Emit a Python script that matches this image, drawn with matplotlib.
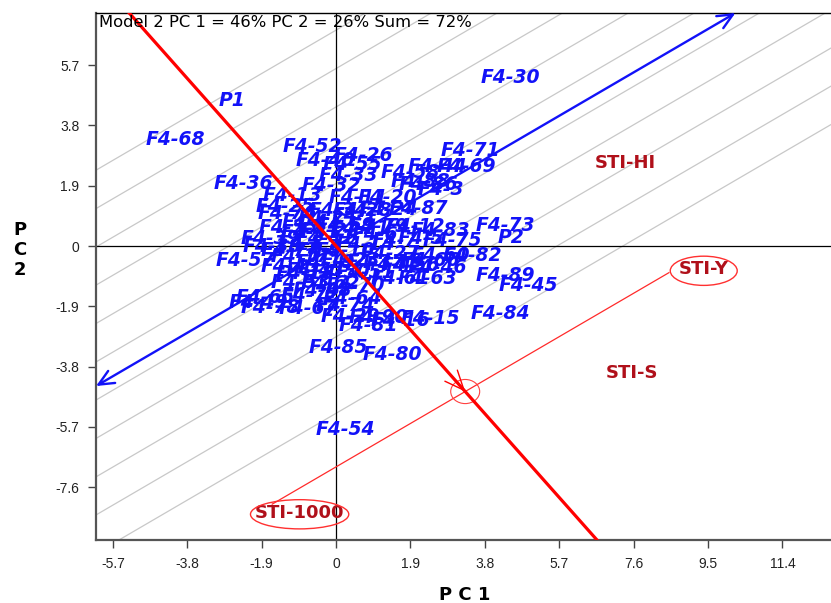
import matplotlib.pyplot as plt
from matplotlib.patches import Ellipse

# genotype scores (PC1, PC2)
geno_names = ['F4-30', 'P1', 'F4-68', 'F4-52', 'F4-26', 'F4-71', 'F4-44', 'F4-69',
              'F4-40', 'F4-55', 'F4-33', 'F4-58', 'F4-88', 'F4-86', 'F4-3', 'F4-32',
              'F4-13', 'F4-36', 'F4-11', 'F4-20', 'F4-87', 'F4-34', 'F4-28', 'F4-24',
              'F4-25', 'F4-76', 'F4-35', 'F4-38', 'F4-57', 'F4-73', 'P2', 'F4-83',
              'F4-12', 'F4-79', 'F4-75', 'F4-5', 'F4-82', 'F4-27', 'F4-60', 'F4-66',
              'F4-46', 'F4-56', 'F4-63', 'F4-61', 'F4-89', 'F4-45', 'F4-84', 'F4-15',
              'F4-29', 'F4-90', 'F4-81', 'F4-16', 'F4-85', 'F4-80', 'F4-54', 'F4-78',
              'F4-65', 'F4-49', 'F4-64', 'F4-67', 'F4-48', 'F4-18', 'F4-59', 'F4-21',
              'F4-22', 'F4-31', 'F4-41', 'F4-6', 'F4-7', 'F4-8', 'F4-9', 'F4-10',
              'F4-14', 'F4-17', 'F4-19', 'F4-23', 'F4-37', 'F4-42', 'F4-43', 'F4-47',
              'F4-50', 'F4-51', 'F4-53', 'F4-62', 'F4-70', 'F4-72', 'F4-74', 'F4-77',
              'F4-1', 'F4-2', 'F4-4', 'F4-39']
geno_x = [4.46, -2.65, -4.11, -0.61, 0.70, 3.43, 2.59, 3.33,
          -0.27, 0.42, 0.31, 1.90, 2.16, 2.36, 2.68, -0.12,
          -1.12, -2.37, 0.57, 1.31, 2.10, 0.06, 0.67, 1.34,
          -1.30, -1.25, -1.22, -1.63, -2.32, 4.33, 4.46, 2.67,
          2.03, 1.08, 2.97, 2.16, 3.49, 1.39, 2.67, 2.41,
          2.59, 1.90, 2.34, 1.64, 4.33, 4.92, 4.20, 2.41,
          0.37, 1.08, 0.83, 1.64, 0.06, 1.44, 0.24, -1.68,
          -1.81, -1.99, 0.42, -0.71, -0.35, -0.79, 0.24, 0.62,
          -0.15, -0.66, -0.27, 1.00, 1.51, -0.91, -0.45, 0.24,
          0.75, -0.91, -0.27, 0.37, 1.00, 1.51, -1.17, -0.53,
          0.11, 0.75, -0.91, -0.15, 0.49, -0.66, 0.24, -1.17,
          0.49, -0.40, -0.79, -1.68]
geno_y = [5.32, 4.57, 3.37, 3.15, 2.86, 3.02, 2.49, 2.52,
          2.68, 2.58, 2.23, 2.33, 2.04, 1.95, 1.79, 1.92,
          1.60, 1.98, 1.54, 1.54, 1.19, 1.13, 1.13, 1.16,
          1.26, 1.03, 0.59, 0.00, -0.45, 0.66, 0.28, 0.50,
          0.62, 0.62, 0.18, 0.25, -0.29, -0.23, -0.29, -0.45,
          -0.67, -0.61, -1.02, -1.02, -0.92, -1.24, -2.12, -2.28,
          -2.22, -2.25, -2.50, -2.35, -3.19, -3.41, -5.78, -1.93,
          -1.62, -1.77, -1.65, -1.96, -1.39, -0.86, 0.66, 0.56,
          0.50, 0.44, 0.25, 0.37, 0.18, 0.09, -0.13, -0.13,
          0.06, -0.32, -0.51, -0.45, -0.51, -0.57, -0.64, -0.76,
          -0.83, -0.83, -1.14, -1.17, -1.24, -1.55, -1.87, -0.13,
          0.97, 0.88, 0.75, 0.25]

# environment labels
env_names = ['STI-HI', 'STI-S', 'STI-Y', 'STI-1000']
env_x = [7.39, 7.57, 9.39, -0.93]
env_y = [2.61, -4.01, -0.73, -8.40]
circled = ['STI-Y', 'STI-1000']

# ends of the line joining STI-1000 and STI-Y
pair_x = [-1.63, 8.50]
pair_y = [-8.13, -0.84]

# y-intercepts of the grey guide lines
guide_b = [6.80, 5.59, 4.38, 3.18, 1.97, 0.76, -0.44, -1.65, -2.86, -4.06, -5.27]

xticks = [-5.7, -3.8, -1.9, 0, 1.9, 3.8, 5.7, 7.6, 9.5, 11.4]
yticks = [-7.6, -5.7, -3.8, -1.9, 0, 1.9, 3.8, 5.7]
xmin, xmax = -6.13, 12.64
ymin, ymax = -9.26, 7.34

blue = '#1212f8'
dred = '#b0101a'

fig = plt.figure(figsize=(8.31, 6.03), dpi=100)
ax = fig.add_axes([96 / 831, 63 / 603, 735 / 831, 527 / 603])
ax.set_xlim(xmin, xmax)
ax.set_ylim(ymin, ymax)

m = (pair_y[1] - pair_y[0]) / (pair_x[1] - pair_x[0])
b = pair_y[0] - m * pair_x[0]

for gb in guide_b:
    ax.axline((0, gb), slope=m, color='#c8c8c8', lw=0.9, zorder=1)

ax.axhline(0, color='black', lw=0.9, zorder=2)
ax.axvline(0, color='black', lw=0.9, zorder=2)

# line between the two environments and the perpendicular through origin
ax.plot(pair_x, pair_y, color='#ff2a2a', lw=0.9, zorder=3)
xf = -b * m / (m * m + 1)
yf = -xf / m
ax.add_patch(Ellipse((xf, yf), 0.74, 0.76, fill=False, ec='#ff4040', lw=0.8, zorder=3))

for name, x, y in zip(geno_names, geno_x, geno_y):
    ax.text(x, y, name, color=blue, fontsize=13.5, fontweight='bold', style='italic',
            ha='center', va='center', zorder=4)

# average environment axis with arrows at both ends
ax.annotate('', xy=(ymax / m, ymax), xytext=(xmin, m * xmin),
            arrowprops=dict(arrowstyle='<->, head_length=0.55, head_width=0.25',
                            color=blue, lw=1.7, shrinkA=0, shrinkB=0,
                            mutation_scale=20), zorder=5)

ax.axline((0, 0), slope=-1 / m, color='#ff0000', lw=2.3, zorder=6)
ax.annotate('', xy=(xf, yf), xytext=(xf - 0.4, yf + 0.4 / m),
            arrowprops=dict(arrowstyle='->, head_length=0.7, head_width=0.3',
                            color='#ff0000', lw=1.0, shrinkA=0, shrinkB=0,
                            mutation_scale=20), zorder=6)

for name, x, y in zip(env_names, env_x, env_y):
    ax.text(x, y, name, color=dred, fontsize=13, fontweight='bold',
            ha='center', va='center', zorder=7)
    if name in circled:
        w = 2.51 if name == 'STI-1000' else 1.71
        ax.add_patch(Ellipse((x, y - 0.05), w, 0.92, fill=False, ec='#ff3030',
                             lw=1.0, zorder=7))

ax.text(0.004, 0.997, 'Model 2 PC 1 = 46% PC 2 = 26% Sum = 72%', transform=ax.transAxes,
        ha='left', va='top', fontsize=11.8, color='black', zorder=8)

ax.set_xticks(xticks)
ax.set_yticks(yticks)
ax.set_xticklabels(['0' if t == 0 else str(t) for t in xticks])
ax.set_yticklabels(['0' if t == 0 else str(t) for t in yticks])
for lab in ax.get_xticklabels() + ax.get_yticklabels():
    lab.set_family('Liberation Sans')
    lab.set_fontsize(10)
    lab.set_color('#222222')
ax.tick_params(direction='out', length=6, width=1, color='#444444', pad=6)

ax.spines['right'].set_visible(False)
ax.spines['top'].set_linewidth(1.0)
ax.spines['top'].set_color('black')
for s in ['left', 'bottom']:
    ax.spines[s].set_linewidth(1.6)
    ax.spines[s].set_color('#555555')

fig.text(465 / 831, 0.013, 'P C 1', ha='center', va='center', fontsize=13, fontweight='bold')
fig.text(20 / 831, 0.585, 'P\nC\n2', ha='center', va='center', fontsize=13,
         fontweight='bold', linespacing=1.15)

fig.savefig('out.png', dpi=100)
